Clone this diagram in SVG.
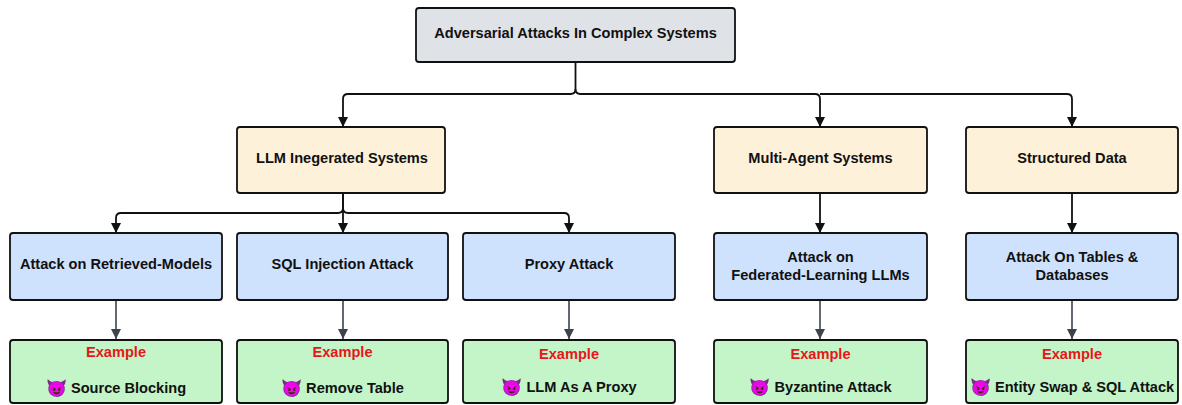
<svg xmlns="http://www.w3.org/2000/svg" width="1182" height="405" viewBox="0 0 1182 405">
<defs>
<style>
.box{stroke:#111;stroke-width:1.8}
.root{fill:#dfe2e7}
.cat{fill:#fef1d9}
.att{fill:#cfe2fd}
.ex{fill:#c3f5c8}
text{font-family:"Liberation Sans",Arial,sans-serif;font-weight:bold;font-size:14.6px;fill:#111;text-anchor:middle;dominant-baseline:central}
.red{fill:#e8151b}
.emo{font-size:17px}
.conn{fill:none;stroke:#111;stroke-width:1.8}
.conn2{fill:none;stroke:#3d434d;stroke-width:1.6}
</style>
<marker id="ah" markerUnits="userSpaceOnUse" markerWidth="10" markerHeight="12" refX="10" refY="5" orient="auto">
<path d="M0,0 L10,5 L0,10 Z" fill="#111"/>
</marker>
<marker id="ah2" markerUnits="userSpaceOnUse" markerWidth="10" markerHeight="12" refX="10" refY="5" orient="auto">
<path d="M0,0 L10,5 L0,10 Z" fill="#3d434d"/>
</marker>
</defs>
<rect width="1182" height="405" fill="#fff"/>
<g id="connectors">
<path class="conn" d="M575.5,62 V89 Q575.5,94 570.5,94 H348 Q343,94 343,99 V127" marker-end="url(#ah)"/>
<path class="conn" d="M575.5,89 Q575.5,94 580.5,94 H815 Q820,94 820,99 V127" marker-end="url(#ah)"/>
<path class="conn" d="M820,94 H1067 Q1072,94 1072,99 V127" marker-end="url(#ah)"/>
<path class="conn" d="M343,193 V208 Q343,213 338,213 H121 Q116,213 116,218 V233" marker-end="url(#ah)"/>
<path class="conn" d="M343,193 V233" marker-end="url(#ah)"/>
<path class="conn" d="M343,208 Q343,213 348,213 H564 Q569,213 569,218 V233" marker-end="url(#ah)"/>
<path class="conn" d="M820,193 V233" marker-end="url(#ah)"/>
<path class="conn" d="M1072,193 V233" marker-end="url(#ah)"/>
<path class="conn2" d="M116,300 V339" marker-end="url(#ah2)"/>
<path class="conn2" d="M343,300 V339" marker-end="url(#ah2)"/>
<path class="conn2" d="M569,300 V339" marker-end="url(#ah2)"/>
<path class="conn2" d="M820,300 V339" marker-end="url(#ah2)"/>
<path class="conn2" d="M1072,300 V339" marker-end="url(#ah2)"/>
</g>
<g id="root">
<rect class="box root" x="416" y="8" width="319" height="54" rx="3"/>
<text x="575.5" y="33">Adversarial Attacks In Complex Systems</text>
</g>
<g id="llm-systems">
<rect class="box cat" x="237" y="127" width="208" height="66" rx="3"/>
<text x="342" y="158">LLM Inegerated Systems</text>
</g>
<g id="multi-agent">
<rect class="box cat" x="714" y="127" width="213" height="66" rx="3"/>
<text x="820.5" y="158">Multi-Agent Systems</text>
</g>
<g id="structured">
<rect class="box cat" x="966" y="127" width="212" height="66" rx="3"/>
<text x="1072" y="158">Structured Data</text>
</g>
<g id="retrieved">
<rect class="box att" x="10" y="233" width="212" height="67" rx="3"/>
<text x="116" y="264">Attack on Retrieved-Models</text>
</g>
<g id="sql">
<rect class="box att" x="237" y="233" width="211" height="67" rx="3"/>
<text x="342.5" y="264">SQL Injection Attack</text>
</g>
<g id="proxy">
<rect class="box att" x="463" y="233" width="212" height="67" rx="3"/>
<text x="569" y="264">Proxy Attack</text>
</g>
<g id="federated">
<rect class="box att" x="714" y="233" width="213" height="67" rx="3"/>
<text x="820.5" y="257">Attack on</text>
<text x="820.5" y="275">Federated-Learning LLMs</text>
</g>
<g id="tables">
<rect class="box att" x="966" y="233" width="212" height="67" rx="3"/>
<text x="1072" y="257">Attack On Tables &amp;</text>
<text x="1072" y="275">Databases</text>
</g>
<g id="ex-source">
<rect class="box ex" x="10" y="340" width="212" height="63" rx="3"/>
<text class="red" x="116" y="352">Example</text>
<text x="116" y="388"><tspan class="emo">😈</tspan> Source Blocking</text>
</g>
<g id="ex-remove">
<rect class="box ex" x="237" y="340" width="211" height="63" rx="3"/>
<text class="red" x="342.5" y="352">Example</text>
<text x="342.5" y="388"><tspan class="emo">😈</tspan> Remove Table</text>
</g>
<g id="ex-proxy">
<rect class="box ex" x="463" y="340" width="212" height="63" rx="3"/>
<text class="red" x="569" y="354">Example</text>
<text x="569" y="387"><tspan class="emo">😈</tspan> LLM As A Proxy</text>
</g>
<g id="ex-byzantine">
<rect class="box ex" x="714" y="340" width="213" height="63" rx="3"/>
<text class="red" x="820.5" y="354">Example</text>
<text x="820.5" y="387"><tspan class="emo">😈</tspan> Byzantine Attack</text>
</g>
<g id="ex-entity">
<rect class="box ex" x="966" y="340" width="212" height="63" rx="3"/>
<text class="red" x="1072" y="354">Example</text>
<text x="1072" y="387"><tspan class="emo">😈</tspan> Entity Swap &amp; SQL Attack</text>
</g>
</svg>
